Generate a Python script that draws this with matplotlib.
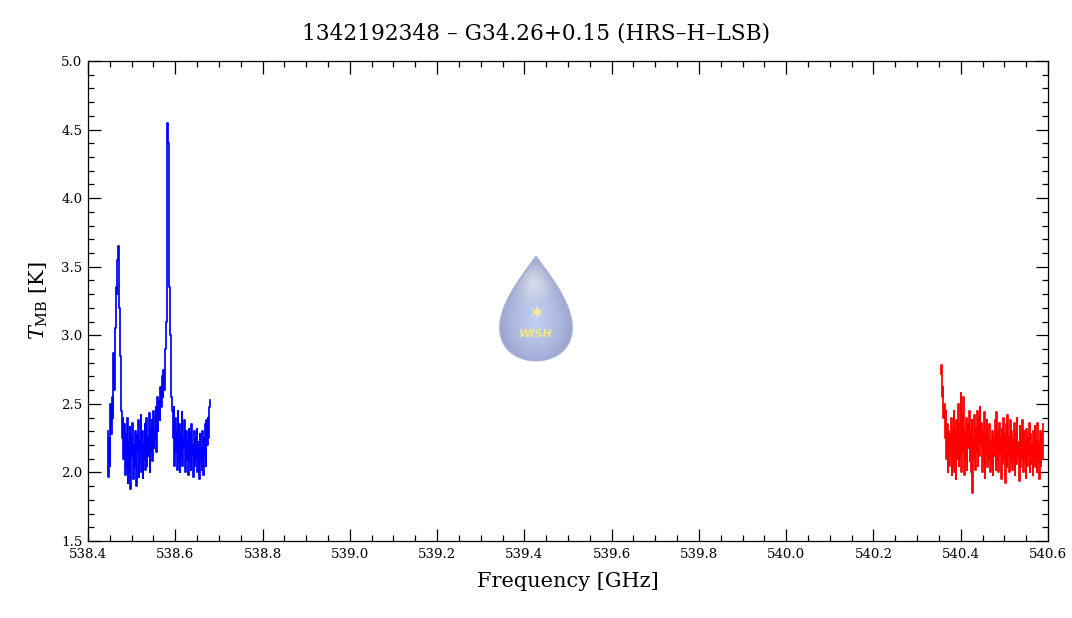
import numpy as np
import matplotlib
matplotlib.use("Agg")
import matplotlib.pyplot as plt
from matplotlib.patches import Polygon
from matplotlib.ticker import MultipleLocator, FormatStrFormatter

plt.rcParams['font.family'] = ['DejaVu Serif', 'DejaVu Sans']
plt.rcParams['mathtext.fontset'] = 'dejavuserif'

# first LSB chunk (blue), channel grid start / step in GHz
blue_f0 = 538.446
blue_df = 0.00157
blue_tmb = [
    2.30, 1.97, 2.25, 2.05, 2.50, 2.28,
    2.55, 2.40, 2.87, 2.60, 2.80,
    3.05, 3.35, 3.30,
    3.55, 3.65, 3.40,
    3.20, 2.85, 2.75,
    2.45, 2.25, 2.40,
    2.10, 2.35, 1.98, 2.28, 2.05, 2.40, 1.92, 2.22, 2.00, 2.33, 1.88, 2.25,
    2.12, 2.36, 1.95, 2.20, 2.05, 2.30, 1.90, 2.27, 2.15, 2.38, 1.97, 2.24,
    2.08, 2.42, 2.00, 2.30, 1.96, 2.21, 2.10, 2.35, 2.02, 2.40, 2.05, 2.26,
    2.12, 2.43, 2.00, 2.32, 2.15, 2.38, 2.08, 2.45, 2.18, 2.30,
    2.25, 2.48, 2.15, 2.55, 2.30, 2.45, 2.52, 2.38, 2.62, 2.48, 2.70, 2.55,
    2.75, 2.60, 2.72, 2.90,
    3.10, 3.70, 4.55, 4.40, 3.90, 3.35, 3.00, 2.70,
    2.55, 2.45, 2.25, 2.48,
    2.05, 2.40, 2.15, 2.30, 2.02, 2.45, 2.10, 2.35, 2.00, 2.28, 2.12, 2.44,
    2.05, 2.25, 2.18, 2.38, 2.00, 2.30, 2.10, 2.22, 1.98, 2.32, 2.08, 2.28,
    2.02, 2.35, 2.12, 2.20, 1.97, 2.30, 2.05, 2.25, 2.10, 2.32, 2.00, 2.22,
    1.95, 2.28, 2.08, 2.18, 2.02, 2.30, 1.98, 2.25, 2.12, 2.35, 2.05, 2.38,
    2.20,
    2.40, 2.25, 2.48, 2.53,
]

# second LSB chunk (red)
red_f0 = 540.355
red_df = 0.00157
red_tmb = [
    2.72, 2.78, 2.55, 2.62, 2.40, 2.50, 2.25, 2.45, 2.10, 2.35, 2.00, 2.30,
    2.05, 2.28,
    2.15, 2.40, 1.98, 2.32, 2.05, 2.45, 2.00, 2.30, 1.95, 2.38, 2.10, 2.50,
    2.05, 2.35, 2.12, 2.58, 2.00, 2.42, 2.15, 2.55, 1.98, 2.30, 2.10, 2.40,
    2.02, 2.35, 2.18, 2.45, 2.08, 2.30,
    2.00, 2.38, 1.85, 2.25, 2.10, 2.42, 2.02, 2.32, 2.15, 2.45, 2.05, 2.40,
    2.12, 2.48, 2.20, 2.36, 2.00, 2.30, 2.08, 2.44, 1.96, 2.28, 2.14, 2.38,
    2.04, 2.25, 2.10, 2.35, 2.00, 2.22,
    2.06, 2.30, 1.98, 2.26, 2.12, 2.38, 2.02, 2.44, 2.08, 2.30, 2.00, 2.36,
    2.14, 2.25, 1.95, 2.32, 2.06, 2.40, 2.10, 2.28, 1.92, 2.35, 2.04, 2.42,
    2.12, 2.26, 2.00, 2.38, 2.08, 2.30,
    2.02, 2.24, 2.10, 2.36, 1.98, 2.28, 2.06, 2.40, 2.12, 2.22, 1.94, 2.34,
    2.04, 2.26, 2.10, 2.38, 2.00, 2.30, 2.08, 2.22, 1.96, 2.32, 2.05, 2.25,
    2.12, 2.36, 2.00, 2.28, 2.06, 2.20,
    1.98, 2.30, 2.10, 2.34, 2.04, 2.24, 2.00, 2.36, 2.08, 2.22,
    1.95, 2.30, 2.05, 2.28, 2.10, 2.35,
]

blue_freq = blue_f0 + blue_df * np.arange(len(blue_tmb))
red_freq = red_f0 + red_df * np.arange(len(red_tmb))

fig = plt.figure(figsize=(10.72, 6.18), dpi=100)
ax = fig.add_axes([0.0821, 0.1246, 0.8955, 0.7767])

ax.plot(blue_freq, blue_tmb, color='blue', lw=1.25, drawstyle='steps-mid')
ax.plot(red_freq, red_tmb, color='red', lw=1.25, drawstyle='steps-mid')

ax.set_xlim(538.4, 540.6)
ax.set_ylim(1.5, 5.0)
ax.xaxis.set_major_locator(MultipleLocator(0.2))
ax.xaxis.set_minor_locator(MultipleLocator(0.05))
ax.yaxis.set_major_locator(MultipleLocator(0.5))
ax.yaxis.set_minor_locator(MultipleLocator(0.1))
ax.tick_params(which='both', direction='in', top=True, right=True,
               labelsize=9.6, width=0.9, colors='black')
ax.tick_params(axis='x', which='both', pad=5)
ax.tick_params(axis='y', which='both', pad=4)
ax.tick_params(which='major', length=9)
ax.tick_params(which='minor', length=4.5)
ax.xaxis.set_major_formatter(FormatStrFormatter('%.1f'))
ax.yaxis.set_major_formatter(FormatStrFormatter('%.1f'))
for s in ax.spines.values():
    s.set_linewidth(0.9)

ax.set_xlabel('Frequency [GHz]', fontsize=15, labelpad=8)
ax.set_ylabel(r'$T_{\rm MB}$ [K]', fontsize=15, labelpad=8)
fig.text(0.5, 0.946, '1342192348 \u2013 G34.26+0.15 (HRS\u2013H\u2013LSB)',
         ha='center', va='center', fontsize=15.6)

# WISH droplet logo
lax = fig.add_axes([499 / 1072, 1 - 362 / 618, 74 / 1072, 107 / 618])
lax.set_xlim(-1.03, 1.03)
lax.set_ylim(-1.03, 1.03)
lax.axis('off')
t = np.linspace(0, 2 * np.pi, 400)
dx = np.sin(t) * np.abs(np.sin(t / 2)) ** 1.2
dx = dx / np.abs(dx).max()
dy = np.cos(t)
drop = Polygon(np.c_[dx, dy], closed=True, fc='none', ec='#a6add6', lw=1.4)
lax.add_patch(drop)

gx, gy = np.meshgrid(np.linspace(-1.03, 1.03, 120), np.linspace(-1.03, 1.03, 160))
r = np.hypot(gx / 1.0, (gy + 0.25) / 0.85)
outer = np.array([0.60, 0.63, 0.80])
inner = np.array([0.76, 0.82, 0.95])
w = np.clip(1 - r, 0, 1)[..., None] ** 0.7
img = outer * (1 - w) + inner * w
hl = np.exp(-(((gx + 0.05) / 0.45) ** 2 + ((gy - 0.5) / 0.35) ** 2))[..., None]
img = img * (1 - 0.6 * hl) + 0.96 * 0.6 * hl
im = lax.imshow(np.clip(img, 0, 1), extent=(-1.03, 1.03, -1.03, 1.03),
                origin='lower', aspect='auto', interpolation='bilinear')
im.set_clip_path(drop)
lax.text(0.0, -0.1, '\u2736', ha='center', va='center', fontsize=14,
         color='#fff38a', family='DejaVu Sans')
lax.text(0.0, -0.5, 'WISH', ha='center', va='center', fontsize=8,
         color='#f1ea80', family='DejaVu Sans', weight='bold', style='italic')

fig.savefig('out.png', dpi=100)
